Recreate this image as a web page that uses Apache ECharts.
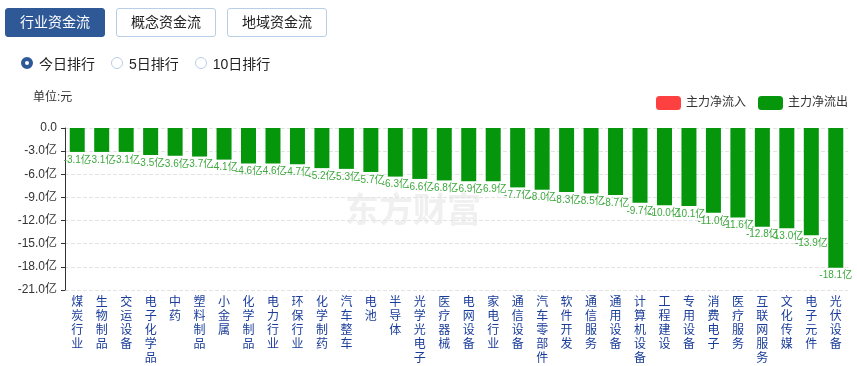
<!DOCTYPE html>
<html><head><meta charset="utf-8">
<script src="https://cdn.jsdelivr.net/npm/echarts@6/dist/echarts.min.js"></script>
<style>
html,body{margin:0;padding:0;width:857px;height:366px;overflow:hidden;background:#fff;font-family:"Liberation Sans","Noto Sans CJK SC",sans-serif;}
#chart{position:absolute;left:0;top:0;width:857px;height:366px;}
.tabs{position:absolute;left:5px;top:8px;z-index:2;display:flex;gap:11px;}
.tab{box-sizing:border-box;width:100px;height:29px;border:1px solid #b8cde6;border-radius:3px;font-size:14px;line-height:27px;text-align:center;color:#222;background:#fff;}
.tab.on{background:#2f5896;border-color:#2f5896;color:#fff;}
.radios{position:absolute;left:21px;top:53px;z-index:2;display:flex;font-size:14px;color:#222;}
.r{display:flex;align-items:center;margin-right:16px;}
.dot{box-sizing:border-box;width:12px;height:12px;border-radius:50%;border:1px solid #b8cde6;margin-right:6px;}
.dot.on{border:4px solid #2f5896;}
</style></head><body>
<div class="tabs"><div class="tab on">行业资金流</div><div class="tab">概念资金流</div><div class="tab">地域资金流</div></div>
<div class="radios"><div class="r"><span class="dot on"></span>今日排行</div><div class="r"><span class="dot"></span>5日排行</div><div class="r"><span class="dot"></span>10日排行</div></div>
<div id="chart"></div>
<script>
const categories = ['煤炭行业','生物制品','交运设备','电子化学品','中药','塑料制品','小金属','化学制品','电力行业','环保行业','化学制药','汽车整车','电池','半导体','光学光电子','医疗器械','电网设备','家电行业','通信设备','汽车零部件','软件开发','通信服务','通用设备','计算机设备','工程建设','专用设备','消费电子','医疗服务','互联网服务','文化传媒','电子元件','光伏设备'];
const outflow = [-3.1,-3.1,-3.1,-3.5,-3.6,-3.7,-4.1,-4.6,-4.6,-4.7,-5.2,-5.3,-5.7,-6.3,-6.6,-6.8,-6.9,-6.9,-7.7,-8.0,-8.3,-8.5,-8.7,-9.7,-10.0,-10.1,-11.0,-11.6,-12.8,-13.0,-13.9,-18.1];
const inflow = categories.map(() => '-');
const seriesNames = ['主力净流入','主力净流出'];
const unitText = '单位:元';
const watermark = '东方财富';
const FF = '"Liberation Sans", "Noto Sans CJK SC", sans-serif';

const chart = echarts.init(document.getElementById('chart'));
chart.setOption({
  animation:false,
  textStyle:{fontFamily:FF},
  graphic:[
    {type:'text',left:33,top:92,style:{text:unitText,fontSize:12,fill:'#333',fontFamily:FF}},
    {type:'text',left:345,top:192,z:-1,style:{text:watermark,fontSize:34,fontWeight:'bold',fill:'#f0f0f0',fontFamily:'"Noto Sans CJK SC", sans-serif'}}
  ],
  legend:{right:4,top:91,itemWidth:25,itemHeight:14,itemGap:12,textStyle:{fontSize:12,color:'#333',fontFamily:FF},data:seriesNames},
  grid:{left:65,right:9,top:128,bottom:68,containLabel:false},
  xAxis:{type:'category',data:categories,position:'bottom',
    axisLine:{show:false},axisTick:{show:false},
    axisLabel:{interval:0,color:'#1a3d9a',fontSize:12,lineHeight:14,margin:6,verticalAlign:'top',fontFamily:FF,
      formatter:v=>v.split('').join('\n')}},
  yAxis:{type:'value',min:-21,max:0,interval:3,
    axisLine:{show:true,lineStyle:{color:'#333'}},axisTick:{show:true,length:4,lineStyle:{color:'#333'}},
    splitLine:{lineStyle:{type:'dashed',color:'#e3e3e3'}},
    axisLabel:{color:'#333',fontSize:12,fontFamily:FF,formatter:v=>v===0?'0.0':v.toFixed(1)+'亿'}},
  series:[
    {name:seriesNames[0],type:'bar',stack:'a',data:inflow,itemStyle:{color:'#ff4040'}},
    {name:seriesNames[1],type:'bar',stack:'a',data:outflow,barWidth:15,itemStyle:{color:'#05960c'},
     label:{show:true,position:'bottom',distance:3,fontSize:10,color:'#3ea83e',fontFamily:FF,formatter:p=>p.value.toFixed(1)+'亿'}}
  ]
});
</script></body></html>
